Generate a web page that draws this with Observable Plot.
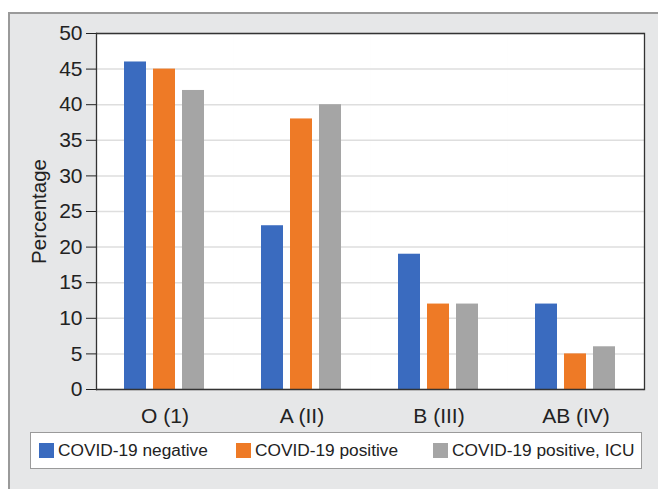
<!DOCTYPE html>
<html>
<head>
<meta charset="utf-8">
<script src="https://cdn.jsdelivr.net/npm/d3@7"></script>
<script src="https://cdn.jsdelivr.net/npm/@observablehq/plot@0.6"></script>
<style>
  html, body { margin: 0; padding: 0; background: #ffffff; }
  #wrap { position: relative; width: 658px; height: 489px; overflow: hidden; font-family: "Liberation Sans", Arial, sans-serif; }
  #panel { position: absolute; left: 8px; top: 12px; right: 0; bottom: 0; background: #e6e7e8; border-top: 2px solid #9a9a9a; border-left: 2px solid #9a9a9a; }
  #chart { position: absolute; left: 0; top: 0; }
  #chart g[aria-label="y-axis tick label"] { font-size: 21px; }
  #chart g[aria-label="y-axis label"] { font-size: 20.5px; }
  #chart g[aria-label="fx-axis tick label"] { font-size: 21px; }
  #legend { position: absolute; left: 30px; top: 432px; width: 610px; height: 35px; background: #fff; border: 1px solid #9a9a9a; display: flex; align-items: center; font-size: 17.3px; color: #222; }
  .item { position: absolute; display: flex; align-items: center; white-space: nowrap; }
  .sw { width: 15px; height: 15px; margin-right: 4px; }
</style>
</head>
<body>
<div id="wrap">
  <div id="panel"></div>
  <div id="chart"></div>
  <div id="legend"></div>
</div>
<script>
const categories = ["O (1)", "A (II)", "B (III)", "AB (IV)"];
const series = ["COVID-19 negative", "COVID-19 positive", "COVID-19 positive, ICU"];
const negative = [46, 23, 19, 12];
const positive = [45, 38, 12, 5];
const icu = [42, 40, 12, 6];
const colors = ["#3a6bbf", "#ee7a26", "#a5a5a5"];
const yTicks = [0, 5, 10, 15, 20, 25, 30, 35, 40, 45, 50];

const valuesBySeries = [negative, positive, icu];
const data = [];
categories.forEach((c, i) => {
  series.forEach((s, j) => data.push({cat: c, series: s, value: valuesBySeries[j][i]}));
});

const chart = Plot.plot({
  width: 658,
  height: 489,
  marginLeft: 95,
  marginRight: 14,
  marginTop: 33,
  marginBottom: 100,
  style: {background: "transparent", fontFamily: "Liberation Sans, Arial, sans-serif", color: "#222"},
  fx: {domain: categories, paddingInner: 0, paddingOuter: 0, label: null, axis: null},
  x: {domain: series, paddingInner: 0.233, paddingOuter: 0.904, axis: null},
  y: {domain: [0, 50], axis: null},
  color: {domain: series, range: colors},
  marks: [
    Plot.frame({fill: "white", stroke: "white", strokeWidth: 0.6}),
    Plot.ruleY(yTicks, {stroke: "#dedede", strokeWidth: 1.5}),
    Plot.barY(data, {fx: "cat", x: "series", y: "value", fill: "series"}),
    Plot.ruleY([0, 50], {stroke: "#333", strokeWidth: 1.3}),
    Plot.frame({anchor: "left", stroke: "#333", strokeWidth: 1.3, facetAnchor: "left"}),
    Plot.frame({anchor: "right", stroke: "#333", strokeWidth: 1.3, facetAnchor: "right"}),
    Plot.axisY({ticks: yTicks, tickSize: 10, tickPadding: 4, label: "Percentage", labelAnchor: "center", labelArrow: "none", labelOffset: 65, facetAnchor: "left"}),
    Plot.axisFx({anchor: "bottom", tickSize: 0, tickPadding: 19, label: null})
  ]
});
document.getElementById("chart").appendChild(chart);

const legend = document.getElementById("legend");
const lefts = [8, 205, 402];
series.forEach((s, j) => {
  const it = document.createElement("div");
  it.className = "item";
  it.style.left = lefts[j] + "px";
  const sw = document.createElement("span");
  sw.className = "sw";
  sw.style.background = colors[j];
  const t = document.createElement("span");
  t.textContent = s;
  it.appendChild(sw);
  it.appendChild(t);
  legend.appendChild(it);
});
</script>
</body>
</html>
